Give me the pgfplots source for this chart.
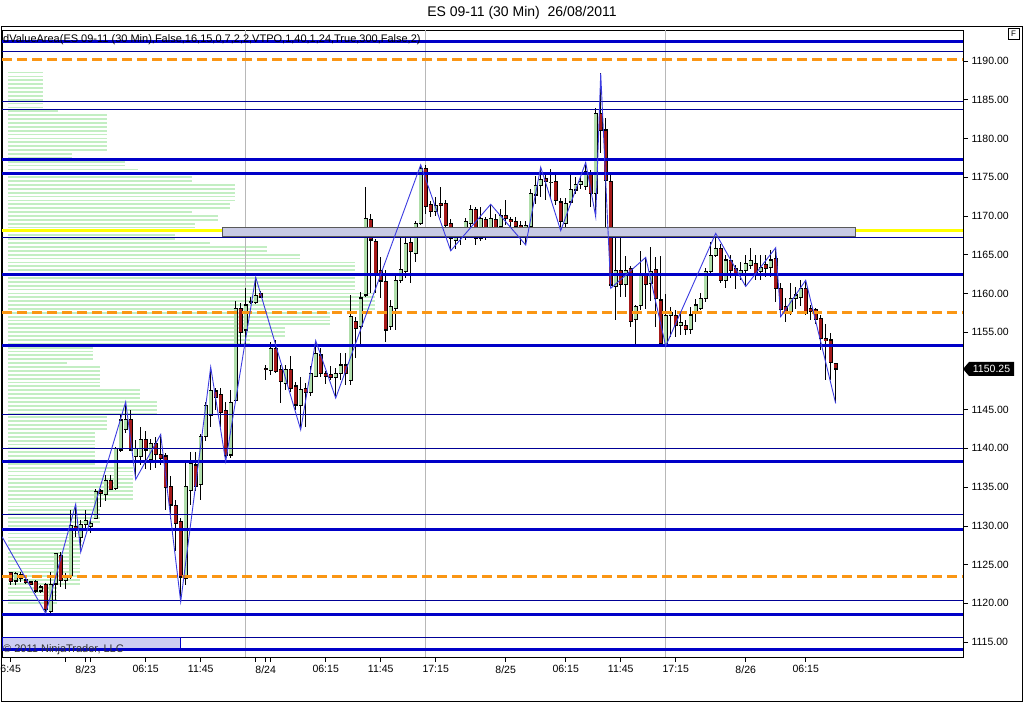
\documentclass[border=0pt]{standalone}
\usepackage{pgfplots}
\pgfplotsset{compat=1.18}
\usepackage{pgfplotstable}
\usepackage{fontspec}
\setmainfont{Liberation Sans}

\definecolor{thickblue}{RGB}{0,0,200}
\definecolor{thinblue}{RGB}{0,0,150}
\definecolor{vaorange}{RGB}{250,150,20}
\definecolor{poc}{RGB}{255,255,0}
\definecolor{upfill}{RGB}{175,222,170}
\definecolor{downfill}{RGB}{165,25,25}
\definecolor{profile}{RGB}{195,238,195}
\definecolor{zig}{RGB}{60,60,225}
\definecolor{boxfill}{RGB}{200,202,228}
\definecolor{copyfill}{RGB}{205,205,242}

% 30 min bars: index, open, high, low, close
\pgfplotstableread{
x o h l c
0 1124.0 1124.1 1122.3 1122.8
1 1122.9 1124.1 1122.3 1123.8
2 1123.7 1124.0 1122.7 1123.2
3 1123.0 1123.2 1122.5 1122.7
4 1122.75 1122.9 1122.5 1122.5
5 1122.8 1123.0 1121.3 1121.6
6 1121.6 1122.4 1121.4 1122.1
7 1122.4 1122.7 1118.75 1119.2
8 1119.0 1124.0 1118.8 1122.4
9 1122.5 1126.5 1120.5 1126.4
10 1126.2 1126.6 1122.1 1122.95
11 1123.0 1123.9 1121.8 1123.5
12 1123.65 1132.0 1123.2 1130.0
13 1129.9 1132.8 1128.5 1129.5
14 1128.5 1130.75 1126.6 1130.2
15 1130.2 1132.0 1129.5 1130.75
16 1129.9 1130.8 1129.1 1130.3
17 1131.0 1134.7 1130.9 1134.4
18 1134.5 1134.8 1132.5 1134.2
19 1134.0 1136.6 1133.25 1135.9
20 1135.8 1136.6 1134.6 1134.75
21 1134.85 1140.2 1134.6 1140.0
22 1139.8 1144.3 1139.6 1143.65
23 1142.45 1146.0 1142.0 1143.75
24 1143.75 1144.95 1139.6 1139.8
25 1138.9 1141.1 1136.0 1140.0
26 1139.0 1142.8 1137.8 1141.2
27 1141.2 1142.2 1137.4 1139.8
28 1138.5 1141.2 1137.2 1140.65
29 1140.65 1141.5 1137.4 1139.25
30 1139.25 1141.8 1137.9 1138.7
31 1139.0 1139.4 1132.0 1135.0
32 1135.05 1136.4 1130.9 1132.7
33 1132.6 1133.3 1126.7 1130.3
34 1130.55 1131.0 1120.2 1123.4
35 1123.2 1138.1 1122.35 1135.05
36 1134.6 1139.6 1132.7 1138.1
37 1137.85 1139.6 1134.5 1135.05
38 1135.3 1141.9 1133.3 1141.5
39 1141.5 1146.0 1141.0 1145.5
40 1144.3 1150.5 1142.8 1147.5
41 1147.4 1147.8 1144.9 1146.6
42 1147.0 1147.8 1142.8 1144.6
43 1144.95 1146.0 1138.3 1139.1
44 1139.15 1147.5 1138.75 1145.9
45 1146.25 1159.0 1146.0 1158.1
46 1158.1 1158.8 1153.1 1154.95
47 1155.3 1160.7 1153.1 1158.5
48 1158.9 1159.5 1158.7 1159.0
49 1158.8 1162.1 1158.7 1159.7
50 1160.0 1160.3 1159.5 1159.55
51 1150.3 1150.75 1148.8 1150.2
52 1150.1 1153.8 1149.5 1152.9
53 1152.9 1154.0 1149.7 1149.9
54 1150.2 1150.75 1145.9 1148.6
55 1148.4 1150.75 1147.5 1150.2
56 1150.2 1151.9 1147.3 1147.75
57 1148.05 1148.6 1144.95 1145.6
58 1145.6 1149.2 1142.4 1147.6
59 1147.75 1148.4 1142.8 1147.2
60 1147.2 1150.7 1146.8 1149.7
61 1149.3 1153.9 1149.2 1152.2
62 1152.05 1153.0 1149.2 1149.7
63 1149.7 1150.0 1148.3 1149.3
64 1149.5 1150.6 1148.8 1149.2
65 1149.2 1150.4 1146.5 1149.7
66 1149.7 1152.3 1148.8 1150.75
67 1150.75 1152.3 1148.2 1149.7
68 1148.8 1159.8 1148.2 1157.0
69 1156.4 1157.0 1151.7 1155.5
70 1155.7 1160.25 1153.3 1159.4
71 1159.8 1173.8 1159.6 1169.7
72 1169.5 1170.3 1160.0 1166.9
73 1166.7 1167.0 1160.0 1162.6
74 1162.9 1164.7 1159.4 1161.6
75 1161.5 1163.0 1153.8 1155.3
76 1155.7 1159.2 1155.3 1158.3
77 1158.1 1162.3 1155.3 1161.7
78 1161.7 1167.1 1161.3 1163.1
79 1162.8 1167.4 1161.95 1166.5
80 1166.55 1168.1 1161.3 1165.4
81 1165.2 1169.3 1164.1 1169.0
82 1169.05 1176.6 1168.8 1176.15
83 1176.15 1176.6 1170.3 1171.2
84 1171.5 1172.0 1169.9 1170.55
85 1170.6 1172.4 1170.0 1171.4
86 1171.6 1173.8 1169.7 1171.4
87 1171.6 1172.1 1168.2 1168.8
88 1169.0 1169.6 1165.5 1167.1
89 1166.8 1168.0 1165.8 1167.3
90 1167.3 1168.6 1166.2 1167.9
91 1167.75 1169.7 1166.9 1169.25
92 1169.05 1171.4 1168.2 1170.85
93 1170.85 1171.2 1166.25 1167.1
94 1167.1 1171.2 1166.8 1169.7
95 1169.5 1169.9 1166.9 1168.4
96 1168.4 1171.5 1167.9 1169.7
97 1169.5 1170.2 1167.9 1168.4
98 1168.6 1170.85 1168.3 1170.1
99 1170.1 1172.0 1168.8 1169.7
100 1169.5 1169.9 1168.4 1169.3
101 1169.25 1169.9 1167.4 1168.6
102 1168.8 1169.3 1166.3 1167.3
103 1167.3 1169.3 1166.25 1168.8
104 1168.6 1173.5 1168.3 1172.9
105 1172.7 1175.1 1171.6 1173.9
106 1173.9 1176.3 1172.5 1174.7
107 1174.85 1175.6 1172.06 1174.4
108 1174.3 1176.0 1172.3 1174.35
109 1174.4 1175.6 1171.4 1172.05
110 1171.8 1172.3 1168.1 1169.3
111 1169.05 1172.3 1168.3 1171.6
112 1171.8 1175.4 1171.4 1173.45
113 1173.35 1175.0 1172.8 1174.1
114 1174.1 1175.1 1173.5 1174.4
115 1173.8 1176.9 1173.35 1175.7
116 1175.5 1175.9 1171.2 1172.9
117 1172.9 1183.9 1169.9 1183.25
118 1183.25 1188.4 1178.1 1181.0
119 1181.1 1182.6 1168.4 1174.6
120 1174.4 1175.5 1160.65 1161.1
121 1160.9 1167.2 1156.6 1162.95
122 1162.95 1167.3 1159.6 1161.2
123 1161.2 1164.8 1159.6 1162.95
124 1163.2 1163.6 1155.7 1156.35
125 1156.6 1158.5 1153.3 1158.3
126 1158.5 1165.5 1157.9 1162.6
127 1162.6 1164.65 1158.0 1161.2
128 1161.3 1166.0 1159.0 1162.8
129 1163.1 1164.7 1155.7 1159.4
130 1159.15 1164.9 1153.3 1153.55
131 1153.3 1159.9 1153.2 1157.2
132 1157.2 1158.3 1154.4 1157.5
133 1157.2 1157.9 1154.4 1155.9
134 1155.9 1157.5 1154.6 1156.2
135 1155.9 1156.6 1154.7 1155.3
136 1155.3 1158.3 1154.7 1157.2
137 1157.65 1159.3 1156.35 1158.5
138 1158.1 1160.0 1157.9 1159.4
139 1159.4 1163.25 1158.95 1162.8
140 1162.8 1166.6 1162.5 1164.95
141 1164.95 1167.75 1164.7 1165.8
142 1165.8 1166.4 1161.3 1161.7
143 1161.7 1164.95 1160.65 1164.3
144 1164.3 1164.95 1162.0 1163.0
145 1163.2 1163.7 1160.6 1162.4
146 1162.5 1164.0 1161.7 1162.95
147 1162.95 1165.0 1160.9 1163.9
148 1163.6 1165.9 1163.2 1164.2
149 1163.9 1164.9 1161.7 1162.5
150 1162.8 1164.9 1161.7 1163.4
151 1163.7 1164.9 1162.1 1163.2
152 1163.4 1165.6 1162.1 1164.3
153 1164.5 1165.9 1158.95 1160.65
154 1160.65 1161.3 1157.0 1157.9
155 1158.3 1159.4 1156.35 1157.65
156 1157.65 1161.3 1157.2 1159.35
157 1159.35 1160.9 1158.0 1159.8
158 1159.5 1161.7 1158.4 1160.65
159 1160.65 1161.73 1157.2 1157.4
160 1158.0 1158.5 1156.6 1157.65
161 1157.95 1158.1 1156.1 1156.65
162 1156.8 1157.2 1152.7 1154.2
163 1154.2 1156.1 1148.8 1153.9
164 1154.0 1154.85 1148.8 1151.05
165 1150.9 1151.0 1145.8 1150.25
}\bars

% swing line
\pgfplotstableread{
x y
-1.74 1128.6
7 1118.7
13 1132.8
14 1126.6
23 1146.0
25 1136.0
30 1141.8
34 1120.2
40 1150.5
43 1138.3
49 1162.1
58 1142.4
61 1153.9
65 1146.5
82 1176.6
88 1165.5
96 1171.5
103 1166.25
106 1176.3
110 1168.1
115 1176.9
117 1169.9
118 1188.4
120 1160.65
127 1164.65
131 1153.2
141 1167.75
147 1160.9
153 1165.9
154 1157.0
159 1161.7
165 1145.8
}\zig

% volume profile: price level, right end (bar units)
\pgfplotstableread[row sep=\\]{
p e\\
1188.5 6.5\\ 1188.0 6.5\\ 1187.5 6.5\\ 1187.0 6.5\\ 1186.5 6.5\\ 1186.0 6.5\\ 1185.5 6.5\\ 1185.0 6.5\\ 1184.5 6.5\\ 1184.0 6.5\\
1183.5 9.5\\
1183.0 19.3\\ 1182.5 19.3\\ 1182.0 19.3\\ 1181.5 19.3\\ 1181.0 19.3\\ 1180.5 19.3\\ 1180.0 19.3\\ 1179.5 19.3\\ 1179.0 19.3\\ 1178.5 19.3\\
1178.0 12.3\\ 1177.5 12.3\\ 1177.0 22.9\\ 1176.5 22.9\\ 1176.0 25.5\\ 1175.5 34.5\\ 1175.0 36.3\\ 1174.5 36.3\\
1174.0 44.9\\ 1173.5 44.9\\ 1173.0 44.9\\ 1172.5 44.9\\ 1172.0 44.9\\ 1171.5 43.9\\ 1171.0 43.9\\ 1170.5 36.3\\
1170.0 41.5\\ 1169.5 41.5\\ 1169.0 36.9\\ 1168.5 36.9\\ 1168.0 32.9\\ 1167.5 32.9\\ 1167.0 32.9\\ 1166.5 39.9\\
1166.0 51.3\\ 1165.5 51.3\\ 1165.0 57.9\\ 1164.5 57.9\\
1164.0 68.9\\ 1163.5 68.9\\ 1163.0 68.9\\ 1162.5 68.9\\ 1162.0 68.9\\ 1161.5 68.9\\ 1161.0 68.9\\ 1160.5 68.9\\
1160.0 72.9\\ 1159.5 72.9\\ 1159.0 72.9\\ 1158.5 72.9\\ 1158.0 72.9\\
1157.5 63.9\\ 1157.0 63.9\\ 1156.5 63.9\\ 1156.0 63.9\\ 1155.5 54.9\\ 1155.0 54.9\\ 1154.5 54.9\\ 1154.0 47.9\\ 1153.5 47.9\\
1153.0 16.5\\ 1152.5 16.5\\ 1152.0 16.5\\ 1151.5 16.5\\ 1151.0 11.3\\
1150.5 17.9\\ 1150.0 17.9\\ 1149.5 17.9\\ 1149.0 17.9\\ 1148.5 17.9\\ 1148.0 17.9\\
1147.5 25.9\\ 1147.0 25.9\\ 1146.5 25.9\\ 1146.0 29.3\\ 1145.5 29.3\\ 1145.0 29.3\\ 1144.5 29.3\\
1144.0 19.3\\ 1143.5 19.3\\ 1143.0 19.3\\ 1142.5 19.3\\
1142.0 16.9\\ 1141.5 16.9\\ 1141.0 16.9\\ 1140.5 16.9\\ 1140.0 16.9\\ 1139.5 16.9\\ 1139.0 16.9\\ 1138.5 16.9\\ 1138.0 16.9\\
1137.5 24.5\\ 1137.0 24.5\\ 1136.5 24.5\\ 1136.0 24.5\\ 1135.5 24.5\\ 1135.0 24.5\\ 1134.5 24.5\\ 1134.0 24.5\\ 1133.5 24.5\\
1133.0 17.9\\ 1132.5 17.9\\ 1132.0 17.9\\ 1131.5 17.9\\ 1131.0 17.9\\ 1130.5 17.9\\
1130.0 14.3\\ 1129.5 14.3\\ 1129.0 14.3\\ 1128.5 14.3\\ 1128.0 14.3\\ 1127.5 14.3\\ 1127.0 14.3\\
1126.5 13.9\\ 1126.0 13.9\\ 1125.5 13.9\\ 1125.0 13.9\\ 1124.5 13.9\\ 1124.0 13.9\\ 1123.5 13.9\\ 1123.0 13.9\\ 1122.5 13.9\\
1122.0 9.3\\ 1121.5 9.3\\ 1121.0 9.3\\ 1120.5 9.3\\ 1120.0 9.3\\
}\prof

\newcommand{\level}[2]{\addplot[#1] coordinates {(-1.74,#2) (190.46,#2)};}

\begin{document}
\begin{tikzpicture}
\path[use as bounding box] (0,0) rectangle (1024pt,703pt);
\fill[white] (0,0) rectangle (1024pt,703pt);

\begin{axis}[
  at={(2pt,46pt)}, anchor=south west,
  scale only axis, width=961pt, height=627pt,
  xmin=-1.74, xmax=190.46, ymin=1113.07, ymax=1194.0,
  axis line style={black, line width=0.8pt},
  tick align=outside, major tick length=5pt,
  tick style={black, line width=0.6pt},
  xtick pos=bottom, ytick pos=right, yticklabel pos=right,
  xtick={0,15,27,38,51,63,74,85,99,111,122,133,147,159},
  xticklabels={6:45,8/23,06:15,11:45,8/24,06:15,11:45,17:15,8/25,06:15,11:45,17:15,8/26,06:15},
  extra x ticks={11,16,49,52}, extra x tick labels={},
  ytick={1115,1120,1125,1130,1135,1140,1145,1155,1160,1165,1170,1175,1180,1185,1190},
  scaled y ticks=false,
  yticklabel style={/pgf/number format/.cd, fixed, fixed zerofill, precision=2, 1000 sep={}, assume math mode=true},
  tick label style={font=\fontsize{10.5}{12}\selectfont},
  clip=true,
  candle/.style={draw=none, mark=none, forget plot, error bars/.cd, y dir=both, y explicit, error mark=none},
]
% volume profile
\addplot[draw=none, mark=none, error bars/.cd, x dir=plus, x explicit, error mark=none,
  error bar style={draw=profile, line width=1.8pt}]
  table[x expr=-0.54, y=p, x error expr={\thisrow{e}+0.54}] {\prof};

% session separators
\addplot[black!28, line width=0.8pt] coordinates {(47,1113.07) (47,1194)};
\addplot[black!28, line width=0.8pt] coordinates {(83,1113.07) (83,1194)};
\addplot[black!28, line width=0.8pt] coordinates {(131,1113.07) (131,1194)};

% candles: wicks, body outline, body fill
\addplot[candle, error bar style={draw=black, line width=0.9pt}]
  table[x=x, y expr={(\thisrow{h}+\thisrow{l})/2}, y error expr={(\thisrow{h}-\thisrow{l})/2}] {\bars};
\addplot[candle, error bar style={draw=black, line width=4.4pt}]
  table[x=x, y expr={(\thisrow{o}+\thisrow{c})/2}, y error expr={abs(\thisrow{o}-\thisrow{c})/2+0.08}] {\bars};
\addplot[restrict expr to domain={\thisrow{c}-\thisrow{o}}{0:100},
  candle, error bar style={draw=upfill, line width=2.6pt}]
  table[x=x, y expr={(\thisrow{o}+\thisrow{c})/2}, y error expr={max(abs(\thisrow{o}-\thisrow{c})/2-0.07,0.001)}] {\bars};
\addplot[restrict expr to domain={\thisrow{o}-\thisrow{c}}{0.001:100},
  candle, error bar style={draw=downfill, line width=2.6pt}]
  table[x=x, y expr={(\thisrow{o}+\thisrow{c})/2}, y error expr={max(abs(\thisrow{o}-\thisrow{c})/2-0.07,0.001)}] {\bars};

% thin levels
\level{thinblue, line width=1pt}{1191.25}
\level{thinblue, line width=1pt}{1184.8}
\level{thinblue, line width=1pt}{1183.8}
\level{thinblue, line width=1pt}{1167.25}
\level{thinblue, line width=1pt}{1144.4}
\level{thinblue, line width=1pt}{1140.0}
\level{thinblue, line width=1pt}{1131.4}
\level{thinblue, line width=1pt}{1120.4}
\level{thinblue, line width=1pt}{1115.6}
% thick levels
\level{thickblue, line width=3pt}{1192.5}
\level{thickblue, line width=3pt}{1177.25}
\level{thickblue, line width=3pt}{1175.5}
\level{thickblue, line width=3pt}{1162.5}
\level{thickblue, line width=3pt}{1153.25}
\level{thickblue, line width=3pt}{1138.25}
\level{thickblue, line width=3pt}{1129.5}
\level{thickblue, line width=3pt}{1118.5}
% value area high / low
\level{vaorange, line width=3pt, dash pattern=on 10pt off 5pt}{1190.25}
\level{vaorange, line width=3pt, dash pattern=on 10pt off 5pt}{1157.5}
\level{vaorange, line width=3pt, dash pattern=on 10pt off 5pt}{1123.5}
% point of control
\level{poc, line width=3.5pt}{1168.1}
\addplot[fill=boxfill, draw=black!65, line width=0.9pt]
  coordinates {(42.3,1167.4) (168.9,1167.4) (168.9,1168.45) (42.3,1168.45) (42.3,1167.4)};

% copyright box
\addplot[fill=copyfill, draw=thickblue, line width=1pt]
  coordinates {(-1.74,1114.0) (33.9,1114.0) (33.9,1115.6) (-1.74,1115.6) (-1.74,1114.0)};
\level{thickblue, line width=3pt}{1114.0}

% swing line
\addplot[zig, line width=0.9pt] table[x=x, y=y] {\zig};
\end{axis}

% frame, titles and labels
\draw[black, line width=1pt] (1pt,1pt) rectangle (1022.5pt,676pt);
\node[font=\fontsize{14}{16}\selectfont] at (522pt,690pt) {ES 09-11 (30 Min)\ \ 26/08/2011};
\node[anchor=west, inner sep=0pt, font=\fontsize{11}{13}\selectfont] at (3pt,663pt)
  {dValueArea(ES 09-11 (30 Min),False,16,15,0,7,2,2,VTPO,1,40,1,24,True,300,False,2)};
\node[anchor=west, inner sep=0pt, text=black!80, font=\fontsize{11}{13}\selectfont] at (3pt,53pt)
  {\textcopyright\ 2011 NinjaTrader, LLC};
\draw[black, line width=0.6pt] (1008pt,664pt) rectangle (1019pt,675pt);
\node[font=\fontsize{8}{9}\selectfont] at (1013.5pt,669.5pt) {F};
\fill[black] (963pt,334pt) -- (969pt,341pt) -- (1014pt,341pt) -- (1014pt,327pt) -- (969pt,327pt) -- cycle;
\node[text=white, font=\fontsize{10.5}{12}\selectfont] at (991.5pt,334pt) {1150.25};
\end{tikzpicture}
\end{document}
